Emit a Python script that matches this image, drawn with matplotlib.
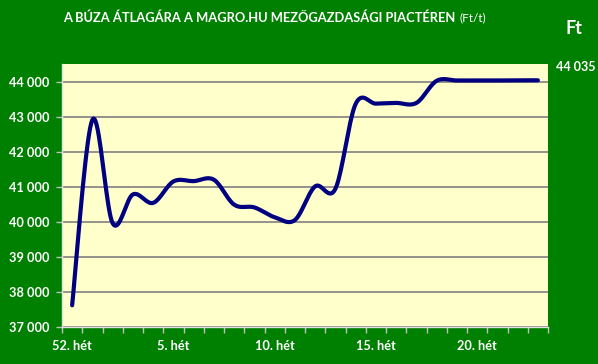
import numpy as np
import matplotlib
matplotlib.use("Agg")
import matplotlib.pyplot as plt

# weekly average wheat price (Ft/t), weeks 52, 1..23
weeks = ["52"] + [str(i) for i in range(1, 24)]
prices = [37620, 42910, 39960, 40780, 40540, 41150, 41160, 41200,
          40490, 40410, 40130, 40050, 41010, 40940, 43360, 43370,
          43390, 43390, 44020, 44030, 44030, 44030, 44035, 44035]
label_every = 5
last_label = "44 035"

GREEN = "#008000"
PLOT_BG = "#FFFFCC"
NAVY = "#000080"


def smooth(x, y, n=20):
    # Excel-like smoothed line: bezier segments with 1/6 tangents
    x = np.asarray(x, float)
    y = np.asarray(y, float)
    px = np.concatenate([[x[0]], x, [x[-1]]])
    py = np.concatenate([[y[0]], y, [y[-1]]])
    xs, ys = [], []
    t = np.linspace(0, 1, n)
    for i in range(1, len(px) - 2):
        p0 = np.array([px[i], py[i]])
        p3 = np.array([px[i + 1], py[i + 1]])
        b1 = p0 + (p3 - np.array([px[i - 1], py[i - 1]])) / 6
        b2 = p3 - (np.array([px[i + 2], py[i + 2]]) - p0) / 6
        pts = ((1 - t) ** 3)[:, None] * p0 + (3 * (1 - t) ** 2 * t)[:, None] * b1 \
            + (3 * (1 - t) * t ** 2)[:, None] * b2 + (t ** 3)[:, None] * p3
        xs.extend(pts[:, 0])
        ys.extend(pts[:, 1])
    return xs, ys


plt.rcParams['font.family'] = ['Lato', 'DejaVu Sans']

fig = plt.figure(figsize=(5.98, 3.64), dpi=100, facecolor=GREEN)
ax = fig.add_axes([62 / 598, 37 / 364, 486 / 598, 263 / 364])
ax.set_facecolor(PLOT_BG)

xpos = np.arange(len(weeks))
sx, sy = smooth(xpos, prices)
ax.plot(sx, sy, color=NAVY, lw=3, solid_capstyle='round', zorder=3)

ax.set_xlim(-0.5, len(weeks) - 0.5)
ax.set_ylim(37000, 44500)
ax.set_yticks(np.arange(37000, 44001, 1000))
ax.set_yticklabels([f"{v // 1000} {v % 1000:03d}" for v in range(37000, 44001, 1000)])
ax.grid(axis='y', color='#808080', lw=1.2, zorder=1)

ax.set_xticks(xpos[::label_every])
ax.set_xticklabels([f"{w}. hét" for w in weeks[::label_every]])
ax.set_xticks(np.arange(-0.5, len(weeks)), minor=True)
ax.tick_params(axis='x', which='major', length=0, pad=9)
ax.tick_params(axis='x', which='minor', length=4, color='#C0C0C0', width=1)
ax.tick_params(axis='y', length=4, color='#C0C0C0', width=1, pad=5)
for lab in ax.get_xticklabels() + ax.get_yticklabels():
    lab.set_color('white')
    lab.set_fontweight('bold')
    lab.set_fontsize(9.2)

for side in ['top', 'right']:
    ax.spines[side].set_visible(False)
for side in ['left', 'bottom']:
    ax.spines[side].set_color('#E0E0E0')
    ax.spines[side].set_linewidth(1)

title = fig.text(63 / 598, 1 - 18 / 364, "A BÚZA ÁTLAGÁRA A MAGRO.HU MEZŐGAZDASÁGI PIACTÉREN",
                 color='white', fontweight='bold', fontsize=9.3, va='center', ha='left')
renderer = fig.canvas.get_renderer()
bb = title.get_window_extent(renderer)
fig.text(bb.x1 / fig.bbox.width + 4 / 598, 1 - 18 / 364, "(Ft/t)", color='white',
         fontsize=8.5, va='center', ha='left')
fig.text(574 / 598, 1 - 29 / 364, "Ft", color='white', fontweight='bold', fontsize=13,
         va='center', ha='center')
fig.text(576 / 598, 1 - 67 / 364, last_label, color='white', fontweight='bold', fontsize=9,
         va='center', ha='center')

fig.savefig("out.png", dpi=100, facecolor=GREEN)
